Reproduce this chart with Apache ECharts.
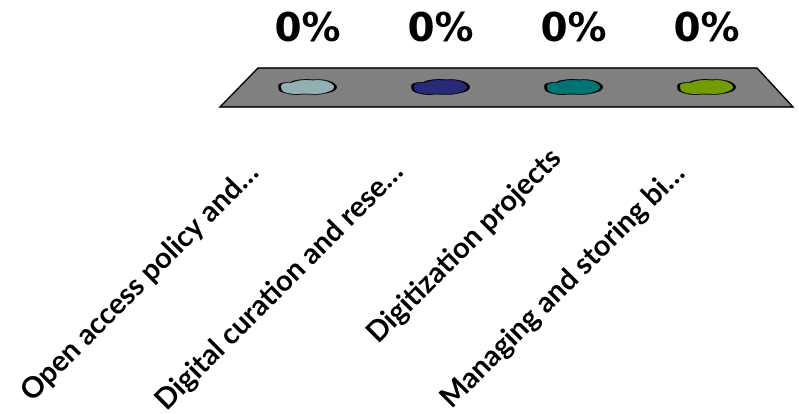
<!DOCTYPE html>
<html>
<head>
<meta charset="utf-8">
<script src="https://cdn.jsdelivr.net/npm/echarts@6/dist/echarts.min.js"></script>
<style>html,body{margin:0;padding:0;background:#fff;}#c{width:799px;height:414px;}</style>
</head>
<body>
<div id="c"></div>
<script>
const categories = ['Open access policy and…', 'Digital curation and rese…', 'Digitization projects', 'Managing and storing bi…'];
const values = [0, 0, 0, 0];
const colors = ['#92b0b2', '#29297a', '#007474', '#739c00'];
// per-label nudges: shift along reading direction, and line height (perpendicular shift)
const labelShift = [38, 29, 2, 19];
const labelLineHeight = [77, 62, 46, 38];

const blob = 'path://M2,7 C1,4 6,3 12,3 C16,1 24,0 32,1 C40,0 48,2 51,5 C54,8 50,11 44,12 C38,14 28,13 22,13 C16,14 8,13 4,11 C2,10 2,9 2,7 Z';

const chart = echarts.init(document.getElementById('c'), null, {renderer: 'canvas'});
chart.setOption({
  animation: false,
  graphic: [{
    type: 'polygon',
    z: 0,
    shape: {points: [[258, 68], [757, 68], [793, 107], [220, 107]]},
    style: {fill: '#808080', stroke: '#000', lineWidth: 1.5}
  }],
  grid: {left: 241, right: 26, top: 20, bottom: 327, outerBoundsMode: 'none', containLabel: false},
  xAxis: {
    type: 'category',
    data: categories.map((c, i) => ({value: c, textStyle: {padding: [0, labelShift[i], 0, 0], lineHeight: labelLineHeight[i]}})),
    axisLine: {show: false},
    axisTick: {show: false},
    splitLine: {show: false},
    axisLabel: {
      interval: 0, rotate: 45, margin: 81, hideOverlap: false,
      formatter: v => v + '\n',
      fontFamily: 'Lato', fontWeight: 'bold', fontSize: 29, color: '#000'
    }
  },
  yAxis: {type: 'value', min: 0, max: 1, show: false, splitLine: {show: false}},
  series: [{
    type: 'scatter',
    z: 5,
    data: values.map((v, i) => ({value: v, itemStyle: {color: colors[i]}})),
    symbol: blob,
    symbolSize: [56, 15],
    itemStyle: {borderColor: '#000', borderWidth: 1.5, opacity: 1},
    label: {
      show: true, position: 'inside', offset: [0, -56],
      formatter: p => p.value + '%',
      fontFamily: 'DejaVu Sans', fontWeight: 'bold', fontSize: 39, color: '#000'
    },
    emphasis: {disabled: true}
  }]
});
</script>
</body>
</html>
